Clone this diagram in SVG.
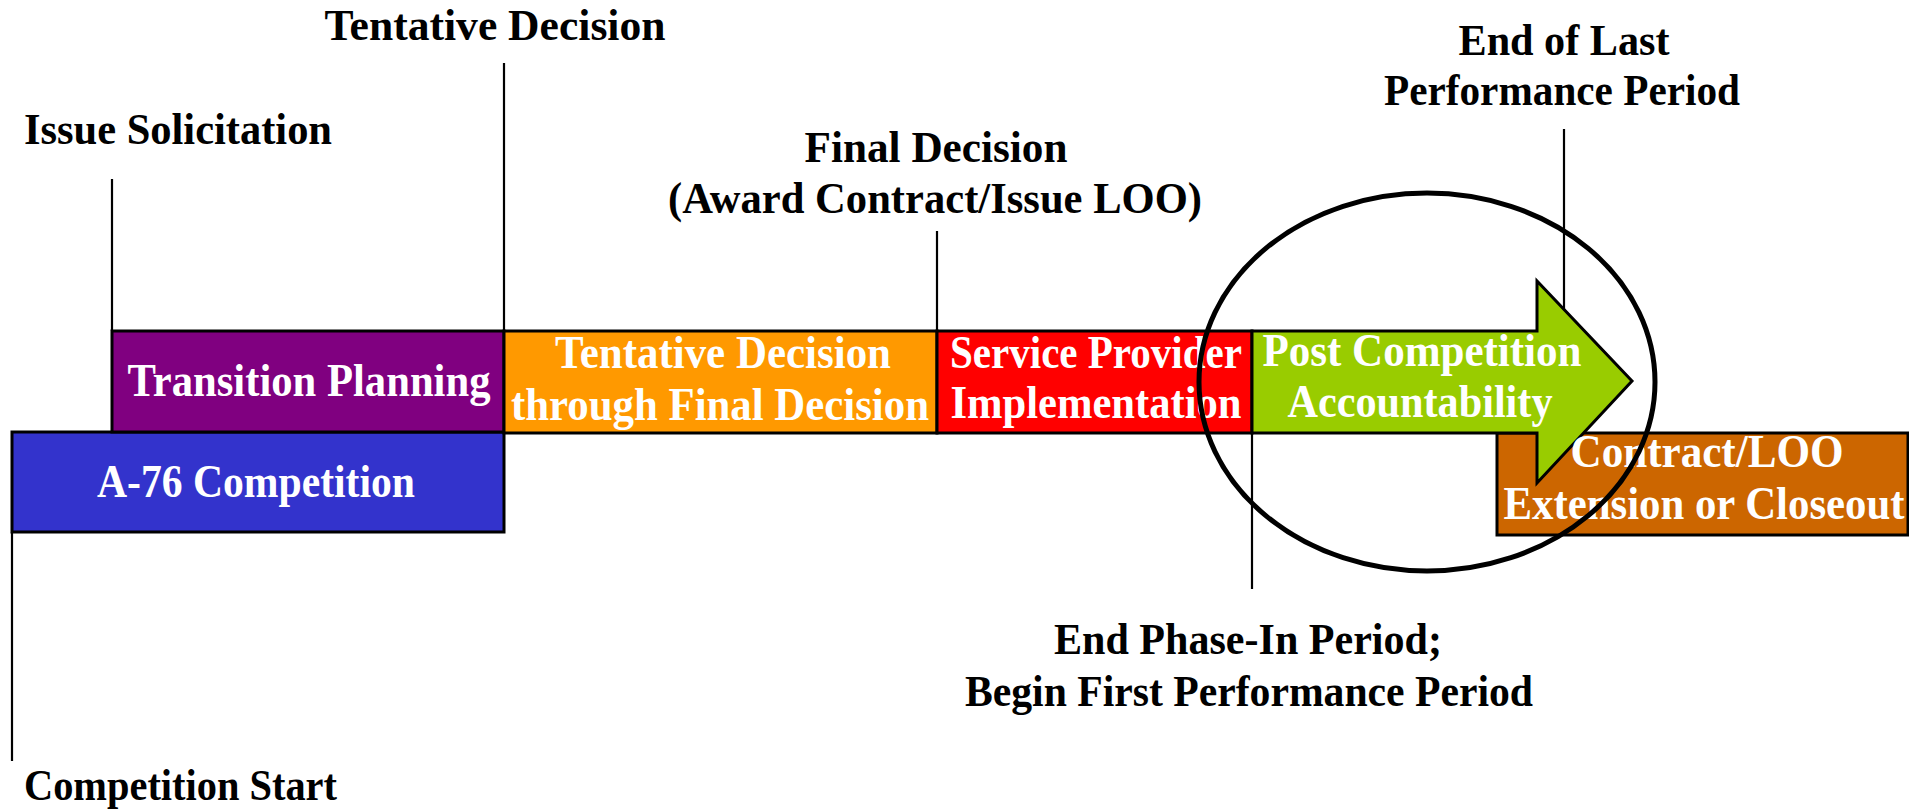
<svg xmlns="http://www.w3.org/2000/svg" width="1909" height="812" viewBox="0 0 1909 812">
<style>
.box{stroke:#000;stroke-width:3}
.ln{stroke:#000;stroke-width:2.2;fill:none}
.lbl{font-family:"Liberation Serif","Times New Roman",serif;font-weight:bold;font-size:44px;fill:#000}
.bt{font-family:"Liberation Serif","Times New Roman",serif;font-weight:bold;font-size:46px;fill:#fff}
</style>
<rect width="1909" height="812" fill="#fff"/>
<g id="connectors">
<line class="ln" x1="12" y1="532" x2="12" y2="761"/>
<line class="ln" x1="112" y1="179" x2="112" y2="331"/>
<line class="ln" x1="504" y1="63" x2="504" y2="331"/>
<line class="ln" x1="937" y1="231" x2="937" y2="331"/>
<line class="ln" x1="1564" y1="129" x2="1564" y2="331"/>
<line class="ln" x1="1252" y1="433" x2="1252" y2="589"/>
</g>
<g id="a76">
<rect class="box" x="12" y="432" width="492" height="100" fill="#3333CC"/>
<text class="bt" x="256" y="497" text-anchor="middle" textLength="318" lengthAdjust="spacingAndGlyphs">A-76 Competition</text>
</g>
<g id="transition">
<rect class="box" x="112" y="331" width="392" height="101" fill="#800080"/>
<text class="bt" x="309" y="396" text-anchor="middle" textLength="363" lengthAdjust="spacingAndGlyphs">Transition Planning</text>
</g>
<g id="tentative-final">
<rect class="box" x="504" y="331" width="433" height="102" fill="#FF9900"/>
<text class="bt" x="723" y="368" text-anchor="middle" textLength="336" lengthAdjust="spacingAndGlyphs">Tentative Decision</text>
<text class="bt" x="720" y="420" text-anchor="middle" textLength="418" lengthAdjust="spacingAndGlyphs">through Final Decision</text>
</g>
<g id="implementation">
<rect class="box" x="937" y="331" width="315" height="102" fill="#FF0000"/>
<text class="bt" x="1096" y="368" text-anchor="middle" textLength="292" lengthAdjust="spacingAndGlyphs">Service Provider</text>
<text class="bt" x="1096" y="418" text-anchor="middle" textLength="291" lengthAdjust="spacingAndGlyphs">Implementation</text>
</g>
<g id="extension">
<rect class="box" x="1497" y="433" width="411" height="102" fill="#CC6600"/>
</g>
<g id="accountability">
<polygon class="box" points="1252,331 1537,331 1537,281 1632,381 1537,483 1537,433 1252,433" fill="#99CC00" stroke-linejoin="miter"/>
<text class="bt" x="1422" y="366" text-anchor="middle" textLength="319" lengthAdjust="spacingAndGlyphs">Post Competition</text>
<text class="bt" x="1420" y="417" text-anchor="middle" textLength="265" lengthAdjust="spacingAndGlyphs">Accountability</text>
</g>
<g id="extension-text">
<text class="bt" x="1707" y="467" text-anchor="middle" textLength="273" lengthAdjust="spacingAndGlyphs">Contract/LOO</text>
<text class="bt" x="1704" y="519" text-anchor="middle" textLength="401" lengthAdjust="spacingAndGlyphs">Extension or Closeout</text>
</g>
<g id="labels">
<text class="lbl" x="495" y="40" text-anchor="middle" textLength="341" lengthAdjust="spacingAndGlyphs">Tentative Decision</text>
<text class="lbl" x="24" y="144" textLength="308" lengthAdjust="spacingAndGlyphs">Issue Solicitation</text>
<text class="lbl" x="936" y="162" text-anchor="middle" textLength="263" lengthAdjust="spacingAndGlyphs">Final Decision</text>
<text class="lbl" x="935" y="213" text-anchor="middle" textLength="534" lengthAdjust="spacingAndGlyphs">(Award Contract/Issue LOO)</text>
<text class="lbl" x="1564" y="55" text-anchor="middle" textLength="211" lengthAdjust="spacingAndGlyphs">End of Last</text>
<text class="lbl" x="1562" y="105" text-anchor="middle" textLength="356" lengthAdjust="spacingAndGlyphs">Performance Period</text>
<text class="lbl" x="1248" y="654" text-anchor="middle" textLength="388" lengthAdjust="spacingAndGlyphs">End Phase-In Period;</text>
<text class="lbl" x="1249" y="706" text-anchor="middle" textLength="568" lengthAdjust="spacingAndGlyphs">Begin First Performance Period</text>
<text class="lbl" x="24" y="800" textLength="313" lengthAdjust="spacingAndGlyphs">Competition Start</text>
</g>
<g id="highlight">
<ellipse cx="1427" cy="382" rx="228" ry="189" fill="none" stroke="#000" stroke-width="5"/>
</g>
</svg>
